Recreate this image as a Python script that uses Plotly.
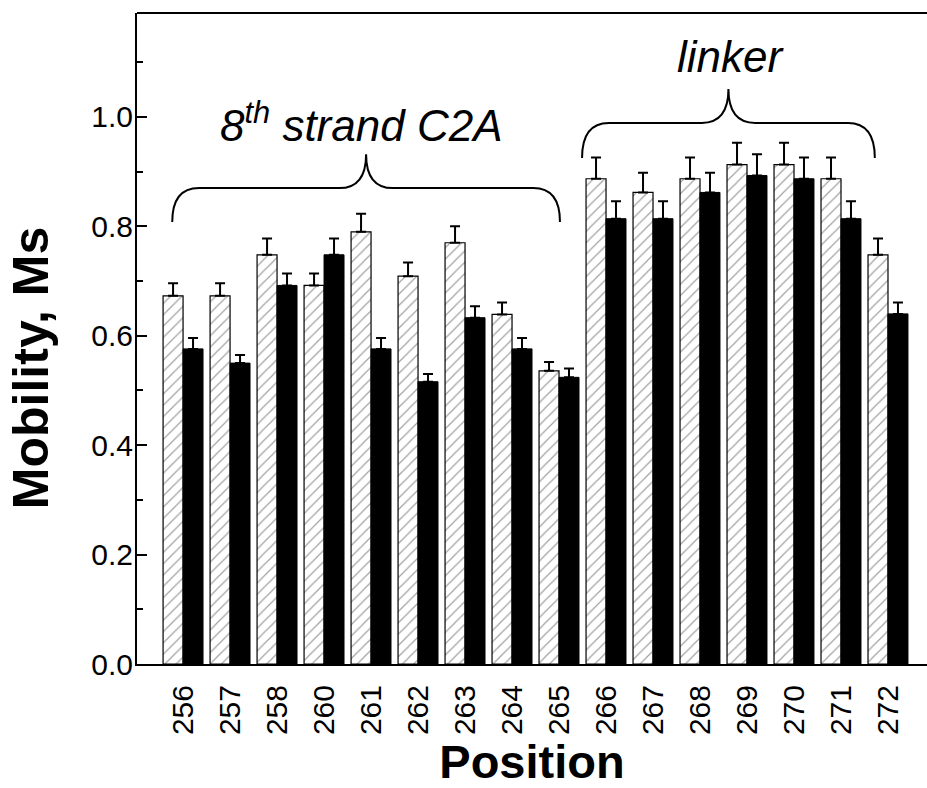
import plotly.graph_objects as go

# ---- data ----
positions = ["256", "257", "258", "260", "261", "262", "263", "264",
             "265", "266", "267", "268", "269", "270", "271", "272"]
open_vals = [0.673, 0.673, 0.748, 0.692, 0.790, 0.709, 0.770, 0.639,
             0.536, 0.887, 0.862, 0.887, 0.913, 0.913, 0.887, 0.748]
open_err = [0.023, 0.023, 0.030, 0.022, 0.033, 0.025, 0.030, 0.022,
            0.016, 0.039, 0.036, 0.039, 0.040, 0.040, 0.039, 0.030]
black_vals = [0.576, 0.550, 0.692, 0.748, 0.576, 0.516, 0.633, 0.576,
              0.524, 0.814, 0.814, 0.862, 0.893, 0.887, 0.814, 0.640]
black_err = [0.020, 0.015, 0.022, 0.030, 0.020, 0.014, 0.021, 0.020,
             0.016, 0.032, 0.032, 0.036, 0.039, 0.039, 0.032, 0.021]

# brace annotations: (start index, end index, label)
braces = [
    (-0.23, 8.02, "<i>8<sup>th</sup> strand C2A</i>"),
    (8.49, 14.72, "<i>linker</i>"),
]
brace_levels = [(0.808, 0.870, 0.932, 0.99), (0.925, 0.989, 1.051, 1.11)]
label_shift = [-0.1, 0.05]

idx = list(range(len(positions)))
FONT = "Liberation Sans, Arial, sans-serif"

fig = go.Figure()
fig.add_trace(go.Bar(
    x=idx, y=open_vals,
    error_y=dict(type="data", array=open_err, arrayminus=[0] * len(idx),
                 symmetric=False, color="black", thickness=2, width=5),
    marker=dict(color="white", line=dict(color="black", width=1.2),
                pattern=dict(shape="/", fgcolor="#444444", bgcolor="white",
                             size=8, solidity=0.15)),
    showlegend=False,
))
fig.add_trace(go.Bar(
    x=idx, y=black_vals,
    error_y=dict(type="data", array=black_err, arrayminus=[0] * len(idx),
                 symmetric=False, color="black", thickness=2, width=5),
    marker=dict(color="black", line=dict(color="black", width=1)),
    showlegend=False,
))

rx = 0.57
for (x0, x1, label), (ye, yh, yp, yt), sh in zip(braces, brace_levels, label_shift):
    xc = (x0 + x1) / 2
    path = (f"M {x0},{ye} Q {x0},{yh} {x0 + rx},{yh} L {xc - rx},{yh} "
            f"Q {xc},{yh} {xc},{yp} Q {xc},{yh} {xc + rx},{yh} "
            f"L {x1 - rx},{yh} Q {x1},{yh} {x1},{ye}")
    fig.add_shape(type="path", path=path, xref="x", yref="y",
                  line=dict(color="black", width=2))
    fig.add_annotation(x=xc + sh, y=yt, text=label, showarrow=False,
                       xref="x", yref="y", yanchor="middle",
                       font=dict(family=FONT, size=44, color="black"))

# top frame line
fig.add_shape(type="line", xref="paper", yref="paper", x0=0, x1=1, y0=1, y1=1,
              line=dict(color="black", width=2))

# y-axis title
fig.add_annotation(text="<b>Mobility, Ms</b>", textangle=-90, showarrow=False,
                   xref="paper", yref="paper", x=-0.135, y=0.455,
                   xanchor="center", yanchor="middle",
                   font=dict(family=FONT, size=50, color="black"))

fig.update_layout(
    width=927, height=788,
    margin=dict(l=137, r=0, t=13, b=124),
    paper_bgcolor="white", plot_bgcolor="white",
    barmode="group", bargap=0.15, bargroupgap=0,
    font=dict(family=FONT, color="black"),
)
fig.update_xaxes(
    range=[-0.98, 15.83], tickvals=idx, ticktext=positions, tickangle=-90,
    ticks="", showline=True, linecolor="black", linewidth=2, mirror=False,
    showgrid=False, zeroline=False, tickfont=dict(size=30),
    ticklabelstandoff=7, automargin=False,
    title=dict(text="<b>Position</b>", font=dict(size=47), standoff=20),
)
fig.update_yaxes(
    range=[0, 1.19], dtick=0.2, tick0=0, tickformat=".1f",
    ticks="inside", ticklen=10, tickwidth=1.5, tickcolor="black",
    minor=dict(dtick=0.1, ticks="inside", ticklen=6, tickwidth=1.5, tickcolor="black"),
    showline=True, linecolor="black", linewidth=2, mirror=False,
    showgrid=False, zeroline=False, tickfont=dict(size=30),
    ticklabelstandoff=-4, automargin=False,
)

fig.write_html("out.html")
